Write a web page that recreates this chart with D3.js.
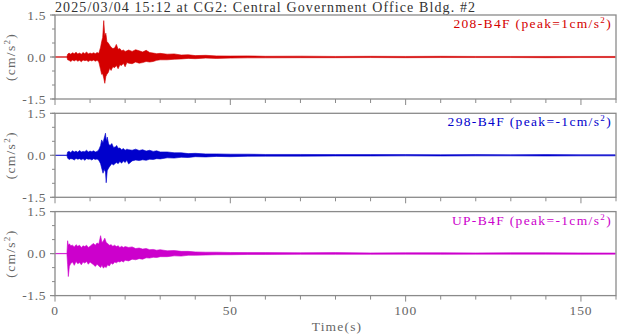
<!DOCTYPE html>
<html><head><meta charset="utf-8">
<script src="https://cdn.jsdelivr.net/npm/d3@7"></script>
<style>body{margin:0;background:#fff}svg{display:block}</style>
</head><body><svg id="c" width="618" height="334"></svg>
<script>
const title = "2025/03/04 15:12 at CG2: Central Government Office Bldg. #2";
const channels = ["208-B4F", "298-B4F", "UP-B4F"];
const peaks = ["1", "-1", "-1"];
const xTicks = [0, 50, 100, 150];
const yTicks = [1.5, 0.0, -1.5];
const xDomain = [0, 160];
const yDomain = [-1.5, 1.5];

// envelope knots (time, upper, lower)
const t208 = [0,3.4,3.6,4,4.5,5,5.5,6,6.5,7,7.5,8,8.5,9,9.5,10,10.5,11,11.5,12,12.5,13,13.3,13.6,13.9,14.2,14.5,14.8,15.2,15.6,16,16.5,17,17.5,18,18.5,19,19.5,20,20.5,21,22,23,24,25,26,27,28,29,30,32,34,36,38,40,43,46,50,55,60,70,80,90,100,110,120,130,140,150,159.8];
const up208 = [0.005,0.005,0.10,0.14,0.10,0.15,0.12,0.17,0.11,0.14,0.10,0.16,0.12,0.18,0.11,0.14,0.12,0.15,0.12,0.16,0.13,0.35,0.55,0.70,1.30,0.75,0.85,0.55,0.50,0.42,0.35,0.30,0.32,0.45,0.28,0.30,0.22,0.25,0.20,0.22,0.25,0.20,0.26,0.22,0.18,0.24,0.16,0.14,0.12,0.13,0.10,0.11,0.07,0.08,0.05,0.06,0.04,0.035,0.04,0.025,0.03,0.02,0.025,0.02,0.025,0.02,0.02,0.02,0.02,0.02];
const lo208 = [-0.005,-0.005,-0.10,-0.12,-0.16,-0.11,-0.14,-0.10,-0.15,-0.12,-0.17,-0.11,-0.13,-0.12,-0.16,-0.12,-0.14,-0.11,-0.15,-0.12,-0.18,-0.45,-0.62,-0.60,-0.75,-0.94,-0.70,-0.62,-0.55,-0.40,-0.48,-0.35,-0.38,-0.30,-0.42,-0.28,-0.30,-0.22,-0.35,-0.20,-0.22,-0.24,-0.18,-0.22,-0.20,-0.16,-0.18,-0.16,-0.12,-0.10,-0.10,-0.08,-0.07,-0.05,-0.06,-0.04,-0.05,-0.04,-0.03,-0.03,-0.025,-0.025,-0.02,-0.025,-0.02,-0.02,-0.02,-0.025,-0.02,-0.02];

const t298 = [0,3.4,3.6,4,4.5,5,5.5,6,6.5,7,7.5,8,8.5,9,9.5,10,10.5,11,11.5,12,12.5,13,13.3,13.7,14,14.4,14.6,14.9,15.3,15.7,16.2,16.7,17.2,17.6,18,18.5,19,19.5,20,20.5,21,22,23,24,25,26,27,28,29,30,32,34,36,38,40,43,46,50,55,60,70,80,90,100,110,120,130,140,150,159.8];
const up298 = [0.005,0.005,0.12,0.14,0.10,0.16,0.12,0.15,0.11,0.17,0.12,0.14,0.13,0.18,0.12,0.15,0.13,0.16,0.12,0.14,0.20,0.35,0.55,0.45,0.60,0.79,0.50,0.65,0.40,0.35,0.42,0.28,0.30,0.35,0.25,0.26,0.20,0.24,0.18,0.22,0.20,0.18,0.22,0.17,0.20,0.15,0.18,0.14,0.16,0.12,0.12,0.09,0.09,0.06,0.07,0.05,0.05,0.04,0.04,0.03,0.03,0.025,0.025,0.025,0.02,0.025,0.02,0.025,0.02,0.02];
const lo298 = [-0.005,-0.005,-0.10,-0.15,-0.12,-0.13,-0.17,-0.11,-0.14,-0.12,-0.16,-0.12,-0.18,-0.12,-0.14,-0.13,-0.17,-0.12,-0.15,-0.13,-0.18,-0.30,-0.45,-0.64,-0.50,-0.60,-0.98,-0.55,-0.45,-0.38,-0.30,-0.35,-0.28,-0.26,-0.30,-0.22,-0.28,-0.20,-0.26,-0.18,-0.31,-0.20,-0.17,-0.19,-0.16,-0.18,-0.14,-0.15,-0.12,-0.13,-0.09,-0.10,-0.07,-0.08,-0.05,-0.06,-0.04,-0.05,-0.035,-0.03,-0.03,-0.025,-0.025,-0.02,-0.025,-0.02,-0.02,-0.025,-0.02,-0.02];

const tUP = [0,3.4,3.6,3.8,4.1,4.5,5,5.5,6,6.5,7,7.5,8,8.5,9,9.5,10,10.5,11,11.5,12,12.5,13,13.4,13.8,14.2,14.6,15,15.5,16,16.5,17,17.5,18,18.5,19,19.5,20,21,22,23,24,25,26,27,28,29,30,32,34,36,38,40,43,46,50,55,60,70,80,90,100,110,120,130,140,150,159.8];
const upUP = [0.005,0.005,0.46,0.30,0.35,0.28,0.30,0.24,0.32,0.26,0.30,0.22,0.28,0.25,0.30,0.22,0.26,0.32,0.36,0.30,0.38,0.34,0.64,0.40,0.45,0.55,0.40,0.36,0.30,0.32,0.26,0.30,0.25,0.28,0.22,0.26,0.22,0.25,0.22,0.24,0.18,0.20,0.16,0.18,0.14,0.15,0.12,0.14,0.10,0.11,0.08,0.08,0.06,0.05,0.05,0.04,0.035,0.035,0.03,0.035,0.025,0.03,0.03,0.025,0.03,0.03,0.025,0.02];
const loUP = [-0.005,-0.005,-0.40,-0.82,-0.45,-0.35,-0.30,-0.42,-0.28,-0.36,-0.32,-0.40,-0.30,-0.34,-0.28,-0.38,-0.30,-0.35,-0.40,-0.46,-0.38,-0.44,-0.50,-0.42,-0.52,-0.46,-0.50,-0.40,-0.44,-0.34,-0.38,-0.30,-0.33,-0.28,-0.30,-0.26,-0.30,-0.24,-0.26,-0.20,-0.22,-0.18,-0.20,-0.15,-0.16,-0.13,-0.14,-0.11,-0.11,-0.08,-0.09,-0.06,-0.06,-0.05,-0.04,-0.04,-0.03,-0.03,-0.025,-0.025,-0.025,-0.02,-0.025,-0.02,-0.02,-0.02,-0.025,-0.02];

const colors = ["#d40000", "#0000cc", "#cc00cc"];
const times = [t208, t298, tUP], ups = [up208, up298, upUP], los = [lo208, lo298, loUP];

const svg = d3.select("#c");
const left = 55, right = 616, ph = 84, tops = [15, 113.3, 211.6];
const serif = "'Liberation Serif', 'Times New Roman', serif";
const x = d3.scaleLinear().domain(xDomain).range([left, right]);
const axisCol = "#8a8a8a", textCol = "#666";

svg.append("text").attr("x", 55).attr("y", 12).attr("font-family", serif)
  .attr("font-size", 14).attr("fill", "#333")
  .attr("textLength", 420).attr("lengthAdjust", "spacing").text(title);

channels.forEach((ch, i) => {
  const top = tops[i];
  const y = d3.scaleLinear().domain(yDomain).range([top + ph, top]);
  const g = svg.append("g");
  const data = times[i].map((t, k) => ({t, up: ups[i][k], lo: los[i][k]}));
  const area = d3.area().x(d => x(d.t)).y0(d => y(d.lo)).y1(d => y(d.up));
  g.append("path").datum(data).attr("d", area).attr("fill", colors[i])
    .attr("stroke", colors[i]).attr("stroke-width", 0.6).attr("stroke-linejoin", "miter");

  // frame
  g.append("rect").attr("x", left).attr("y", top).attr("width", right - left).attr("height", ph)
    .attr("fill", "none").attr("stroke", axisCol).attr("stroke-width", 1.3);

  // y ticks
  const yMinor = d3.range(-1.5, 1.51, 0.5);
  g.selectAll(".ym").data(yMinor).enter().append("line")
    .attr("x1", left - 3).attr("x2", left).attr("y1", d => y(d)).attr("y2", d => y(d))
    .attr("stroke", axisCol).attr("stroke-width", 1);
  g.selectAll(".yM").data(yTicks).enter().append("line")
    .attr("x1", left - 5).attr("x2", left).attr("y1", d => y(d)).attr("y2", d => y(d))
    .attr("stroke", axisCol).attr("stroke-width", 1.2);
  g.selectAll(".yl").data(yTicks).enter().append("text")
    .attr("x", 46).attr("y", d => y(d) + 4.5).attr("text-anchor", "end")
    .attr("font-family", serif).attr("font-size", 13.5).attr("fill", textCol)
    .attr("letter-spacing", 0.6).text(d => d.toFixed(1));

  // x ticks
  const xMinor = d3.range(0, 161, 10);
  g.selectAll(".xm").data(xMinor).enter().append("line")
    .attr("x1", d => x(d)).attr("x2", d => x(d)).attr("y1", top + ph)
    .attr("y2", d => top + ph + (d % 50 === 0 ? 6 : 4))
    .attr("stroke", axisCol).attr("stroke-width", 1);

  // y label
  const yl = g.append("text").attr("transform", `translate(15,${top + ph / 2}) rotate(-90)`)
    .attr("text-anchor", "middle").attr("font-family", serif).attr("font-size", 13.5)
    .attr("fill", textCol).attr("letter-spacing", 1.3);
  yl.append("tspan").text("(cm/s");
  yl.append("tspan").attr("dy", -5).attr("font-size", 9).text("2");
  yl.append("tspan").attr("dy", 5).text(")");

  // channel label
  const cl = g.append("text").attr("x", 612).attr("y", top + 13).attr("text-anchor", "end")
    .attr("font-family", serif).attr("font-size", 13.5).attr("fill", colors[i]).attr("letter-spacing", 1.35);
  cl.append("tspan").text(`${ch} (peak=${peaks[i]}cm/s`);
  cl.append("tspan").attr("dy", -5).attr("font-size", 9).text("2");
  cl.append("tspan").attr("dy", 5).text(")");
});

const bottom = tops[2] + ph;
svg.selectAll(".xl").data(xTicks).enter().append("text")
  .attr("x", d => x(d)).attr("y", bottom + 19).attr("text-anchor", "middle")
  .attr("font-family", serif).attr("font-size", 13.5).attr("fill", textCol).attr("letter-spacing", 0.8)
  .text(d => d);
svg.append("text").attr("x", 337).attr("y", 331).attr("text-anchor", "middle")
  .attr("font-family", serif).attr("font-size", 13.5).attr("fill", textCol).attr("letter-spacing", 1.2)
  .text("Time(s)");
</script></body></html>
